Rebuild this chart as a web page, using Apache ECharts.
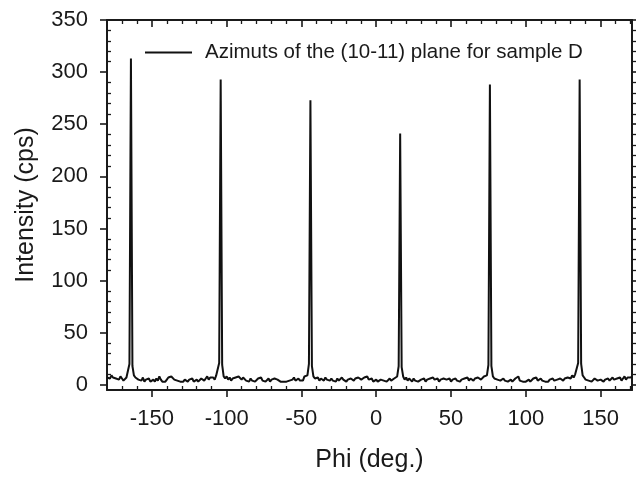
<!DOCTYPE html>
<html><head><meta charset="utf-8">
<script src="https://cdn.jsdelivr.net/npm/echarts@6/dist/echarts.min.js"></script>
<style>html,body{margin:0;padding:0;background:#fff}#c{width:636px;height:478px}</style>
</head><body><div id="c"></div>
<script>
const seriesName = 'Azimuts of the (10-11) plane for sample D';
const xAxisName = 'Phi (deg.)';
const yAxisName = 'Intensity (cps)';

const phi = [
-180,-179,-178,-177,-176,-175,-174,-173,-172,-171,
-170,-169,-168,-167,-166,-165,-164,-163,-162,-161,
-160,-159,-158,-157,-156,-155,-154,-153,-152,-151,
-150,-149,-148,-147,-146,-145,-144,-143,-142,-141,
-140,-139,-138,-137,-136,-135,-134,-133,-132,-131,
-130,-129,-128,-127,-126,-125,-124,-123,-122,-121,
-120,-119,-118,-117,-116,-115,-114,-113,-112,-111,
-110,-109,-108,-107,-106,-105,-104,-103,-102,-101,
-100,-99,-98,-97,-96,-95,-94,-93,-92,-91,
-90,-89,-88,-87,-86,-85,-84,-83,-82,-81,
-80,-79,-78,-77,-76,-75,-74,-73,-72,-71,
-70,-69,-68,-67,-66,-65,-64,-63,-62,-61,
-60,-59,-58,-57,-56,-55,-54,-53,-52,-51,
-50,-49,-48,-47,-46,-45,-44,-43,-42,-41,
-40,-39,-38,-37,-36,-35,-34,-33,-32,-31,
-30,-29,-28,-27,-26,-25,-24,-23,-22,-21,
-20,-19,-18,-17,-16,-15,-14,-13,-12,-11,
-10,-9,-8,-7,-6,-5,-4,-3,-2,-1,
0,1,2,3,4,5,6,7,8,9,
10,11,12,13,14,15,16,17,18,19,
20,21,22,23,24,25,26,27,28,29,
30,31,32,33,34,35,36,37,38,39,
40,41,42,43,44,45,46,47,48,49,
50,51,52,53,54,55,56,57,58,59,
60,61,62,63,64,65,66,67,68,69,
70,71,72,73,74,75,76,77,78,79,
80,81,82,83,84,85,86,87,88,89,
90,91,92,93,94,95,96,97,98,99,
100,101,102,103,104,105,106,107,108,109,
110,111,112,113,114,115,116,117,118,119,
120,121,122,123,124,125,126,127,128,129,
130,131,132,133,134,135,136,137,138,139,
140,141,142,143,144,145,146,147,148,149,
150,151,152,153,154,155,156,157,158,159,
160,161,162,163,164,165,166,167,168,169,
170,171
];

const intensity = [
7,8,6,9,7,8,6,7,5,8,
6,4,5,7,8,20,313,18,9,7,
8,5,6,4,7,3,5,4,6,3,
4,5,3,6,4,8,5,3,4,3,
5,7,6,8,7,5,6,4,5,3,
4,3,5,4,3,5,4,6,3,4,
5,3,4,6,5,4,6,8,5,7,
6,7,5,9,9,21,293,19,8,6,
8,5,7,4,6,5,7,6,8,7,
5,7,6,4,5,3,6,4,5,3,
4,6,5,7,4,5,3,4,6,3,
5,4,6,7,5,4,3,2,3,4,
3,2,4,3,5,7,4,3,6,4,
5,4,8,7,9,20,273,18,8,6,
5,7,4,6,5,4,7,5,6,4,
6,4,5,3,6,4,5,7,5,4,
3,5,4,6,5,4,6,5,7,6,
5,6,7,6,8,5,4,6,3,4,
5,3,4,5,6,4,5,3,4,6,
4,5,6,7,8,18,241,17,8,5,
7,4,6,5,3,6,4,5,3,4,
5,4,6,3,5,4,6,5,7,5,
4,6,3,5,4,6,7,5,4,6,
3,5,4,6,4,5,3,5,4,6,
5,7,4,6,5,4,6,5,7,6,
5,6,8,7,9,19,288,18,8,6,
7,5,6,4,5,6,4,5,3,4,
5,3,4,6,5,8,4,5,3,4,
3,4,5,3,4,6,5,7,4,5,
6,4,5,3,4,3,5,4,6,4,
3,5,4,6,5,4,6,5,7,8,
6,9,7,10,10,21,293,20,9,7,
5,6,4,5,3,4,6,5,4,3,
5,4,3,5,4,6,4,5,7,5,
4,6,5,7,4,6,8,5,7,6,
7,8
];

const xMajorTicks = [-150, -100, -50, 0, 50, 100, 150];
const xMinorTicks = [-170,-160,-140,-130,-120,-110,-90,-80,-70,-60,-40,-30,-20,-10,10,20,30,40,60,70,80,90,110,120,130,140,160,170];
const yMajorTicks = [0, 50, 100, 150, 200, 250, 300, 350];
const yMinorTicks = [10,20,30,40,60,70,80,90,110,120,130,140,160,170,180,190,210,220,230,240,260,270,280,290,310,320,330,340];

const X_MIN = -180, X_MAX = 171, Y_MIN = -5, Y_MAX = 350;
const AX = '#1a1a1a';
const TXT = '#1a1a1a';
const FONT = 'Liberation Sans';

function line(show) {
  return { show: show, onZero: false, lineStyle: { color: AX, width: 2 } };
}
function tick(values, inside, length, width) {
  return { show: true, inside: inside, length: length, customValues: values, lineStyle: { color: AX, width: width } };
}
function xAx(extra) {
  return Object.assign({
    type: 'value', min: X_MIN, max: X_MAX, position: 'bottom',
    axisLine: line(false),
    axisTick: { show: false },
    axisLabel: { show: false },
    splitLine: { show: false }
  }, extra);
}
function yAx(extra) {
  return Object.assign({
    type: 'value', min: Y_MIN, max: Y_MAX, position: 'left',
    axisLine: line(false),
    axisTick: { show: false },
    axisLabel: { show: false },
    splitLine: { show: false }
  }, extra);
}

const chart = echarts.init(document.getElementById('c'), null, { renderer: 'canvas' });
chart.setOption({
  animation: false,
  backgroundColor: '#fff',
  grid: { left: 107, right: 4, top: 20, bottom: 88, containLabel: false, outerBoundsMode: 'none' },
  legend: {
    data: [seriesName], left: 145, top: 42, padding: 0,
    icon: 'rect', itemWidth: 47, itemHeight: 2,
    textStyle: { fontFamily: FONT, fontSize: 20.5, color: TXT, padding: [0, 0, 0, 8] }
  },
  xAxis: [
    xAx({
      name: xAxisName, nameLocation: 'middle', nameGap: 58,
      nameTextStyle: { fontFamily: FONT, fontSize: 25, color: TXT },
      axisLine: line(true),
      axisTick: tick(xMajorTicks, false, 7, 1.6),
      axisLabel: { show: true, customValues: xMajorTicks, margin: 18, fontFamily: FONT, fontSize: 22, color: TXT }
    }),
    xAx({ axisTick: tick(xMinorTicks, true, 4, 1.3) }),
    xAx({ position: 'top', axisLine: line(true), axisTick: tick(xMajorTicks, true, 7, 1.6) }),
    xAx({ position: 'top', axisTick: tick(xMinorTicks, true, 4, 1.3) })
  ],
  yAxis: [
    yAx({
      name: yAxisName, nameLocation: 'middle', nameGap: 68,
      nameTextStyle: { fontFamily: FONT, fontSize: 25, color: TXT },
      axisLine: line(true),
      axisTick: tick(yMajorTicks, false, 7, 1.6),
      axisLabel: { show: true, customValues: yMajorTicks, margin: 19, fontFamily: FONT, fontSize: 22, color: TXT }
    }),
    yAx({ axisTick: tick(yMinorTicks, true, 4, 1.3) }),
    yAx({ position: 'right', axisLine: line(true), axisTick: tick(yMajorTicks, false, 5, 1.6) }),
    yAx({ position: 'right', axisTick: tick(yMinorTicks, false, 4, 1.3) })
  ],
  series: [{
    name: seriesName, type: 'line', xAxisIndex: 0, yAxisIndex: 0,
    showSymbol: false, symbol: 'none', clip: true,
    itemStyle: { color: '#111' },
    lineStyle: { color: '#111', width: 2 },
    data: phi.map((p, i) => [p, intensity[i]])
  }]
});
</script>
</body></html>
